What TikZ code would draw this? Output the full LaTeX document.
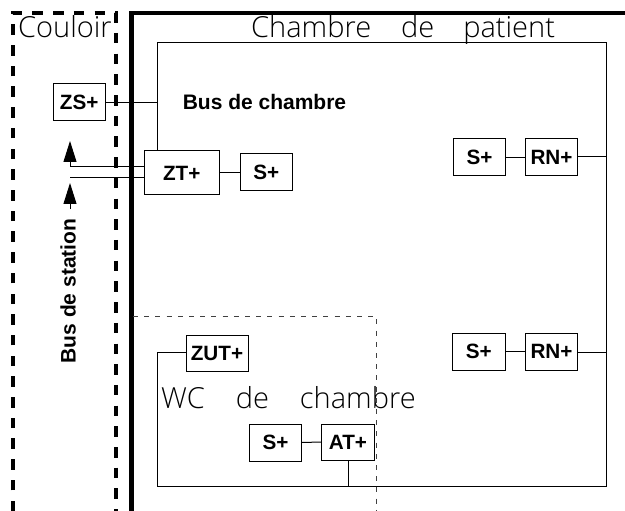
\documentclass[tikz,border=0pt]{standalone}
\usepackage{fontspec}
\setmainfont{Liberation Sans}
\newfontfamily\lightfont{Open Sans Light}
\usetikzlibrary{arrows.meta}
\tikzset{
  x=1pt,y=-1pt,
  unit/.style={draw=black,line width=1pt,inner sep=0pt,font=\fontsize{20.7}{21}\selectfont\bfseries},
  wire/.style={draw=black,line width=1pt},
  roomtitle/.style={inner sep=0pt,anchor=base west,font=\fontsize{29}{29}\lightfont},
  buslabel/.style={inner sep=0pt,font=\fontsize{21}{22}\selectfont\bfseries},
  corridor/.style={draw=black,line width=4pt,dash pattern=on 10.5pt off 10.2pt},
  wall/.style={draw=black,line width=4.2pt},
  wcroom/.style={draw=black!75,line width=0.9pt,dash pattern=on 5pt off 6.2pt},
  busarrow/.style={-{Triangle[length=21pt,width=13pt]},line width=1pt}
}
\newcommand{\unitbox}[6]{\node[unit,minimum width=#4pt,minimum height=#5pt] (#1) at (#2,#3) {#6};}
\begin{document}
\begin{tikzpicture}
\useasboundingbox[fill=white] (0,0) rectangle (625,511);
% corridor and walls
\draw[corridor] (13,511) -- (13,13) -- (116,13) -- (116,511);
\draw[wall] (131.5,511) -- (131.5,13) -- (625,13);
\draw[wcroom] (133,316) -- (376,316) -- (376,511);
% units
\unitbox{zs}{79.25}{102.5}{52.5}{37}{ZS+}
\unitbox{zt}{181.75}{173}{75.5}{44}{\raisebox{-2pt}{ZT+}}
\unitbox{s1}{266.25}{172.5}{52.5}{37}{S+}
\unitbox{s2}{479.5}{157.5}{52}{37}{S+}
\unitbox{rn1}{551.5}{157.5}{52}{37}{RN+}
\unitbox{s3}{478.75}{351.5}{52.5}{37}{S+}
\unitbox{rn2}{551.5}{351.5}{52}{37}{RN+}
\unitbox{zut}{217}{353}{62}{36}{ZUT+}
\unitbox{s4}{275.5}{442.5}{52}{37}{S+}
\unitbox{at}{348}{442}{53}{36}{AT+}
% bus corners
\coordinate (tl) at (157.5,42.5);
\coordinate (tr) at (606,42.5);
\coordinate (br) at (606,486.5);
\coordinate (bl) at (157.5,486.5);
\coordinate (zutl) at (157.5,352);
\coordinate (ztup) at (157.5,151);
\coordinate (zsj) at (157.5,102.5);
\coordinate (r1j) at (606,156.5);
\coordinate (r2j) at (606,352);
\coordinate (atj) at (348.5,486.5);
\coordinate (atb) at (348.5,460);
\coordinate (st1) at (70,167);
\coordinate (st2) at (70,178);
\coordinate (zta) at (144,167);
\coordinate (ztb) at (144,178);
\coordinate (tip1) at (70,141);
\coordinate (tip2) at (70,183);
\coordinate (tail2) at (70,209);
% bus wiring
\draw[wire] (ztup) -- (tl) -- (tr) -- (br) -- (bl) -- (zutl) -- (zut.west |- zutl);
\draw[wire] (zs.east) -- (zsj);
\draw[wire] (zt.east |- s1.west) -- (s1.west);
\draw[wire] (s2.east) -- (rn1.west);
\draw[wire] (rn1.east |- r1j) -- (r1j);
\draw[wire] (s3.east) -- (rn2.west);
\draw[wire] (rn2.east |- r2j) -- (r2j);
\draw[wire] (s4.east) -- (at.west);
\draw[wire] (atb) -- (atj);
\draw[wire] (st1) -- (zta);
\draw[wire] (st2) -- (ztb);
\draw[busarrow] (st1) -- (tip1);
\draw[busarrow] (tail2) -- (tip2);
% labels
\node[roomtitle] (couloir) at (18,37.5) {Couloir};
\node[roomtitle] (chambre) at (251,38) {Chambre\hspace{30pt}de\hspace{29pt}patient};
\node[roomtitle] (wc) at (161,408) {WC\hspace{31pt}de\hspace{31pt}chambre};
\node[buslabel] (buschambre) at (264.5,102) {Bus de chambre};
\node[buslabel,rotate=90] (busstation) at (68,291) {Bus de station};
\end{tikzpicture}
\end{document}
